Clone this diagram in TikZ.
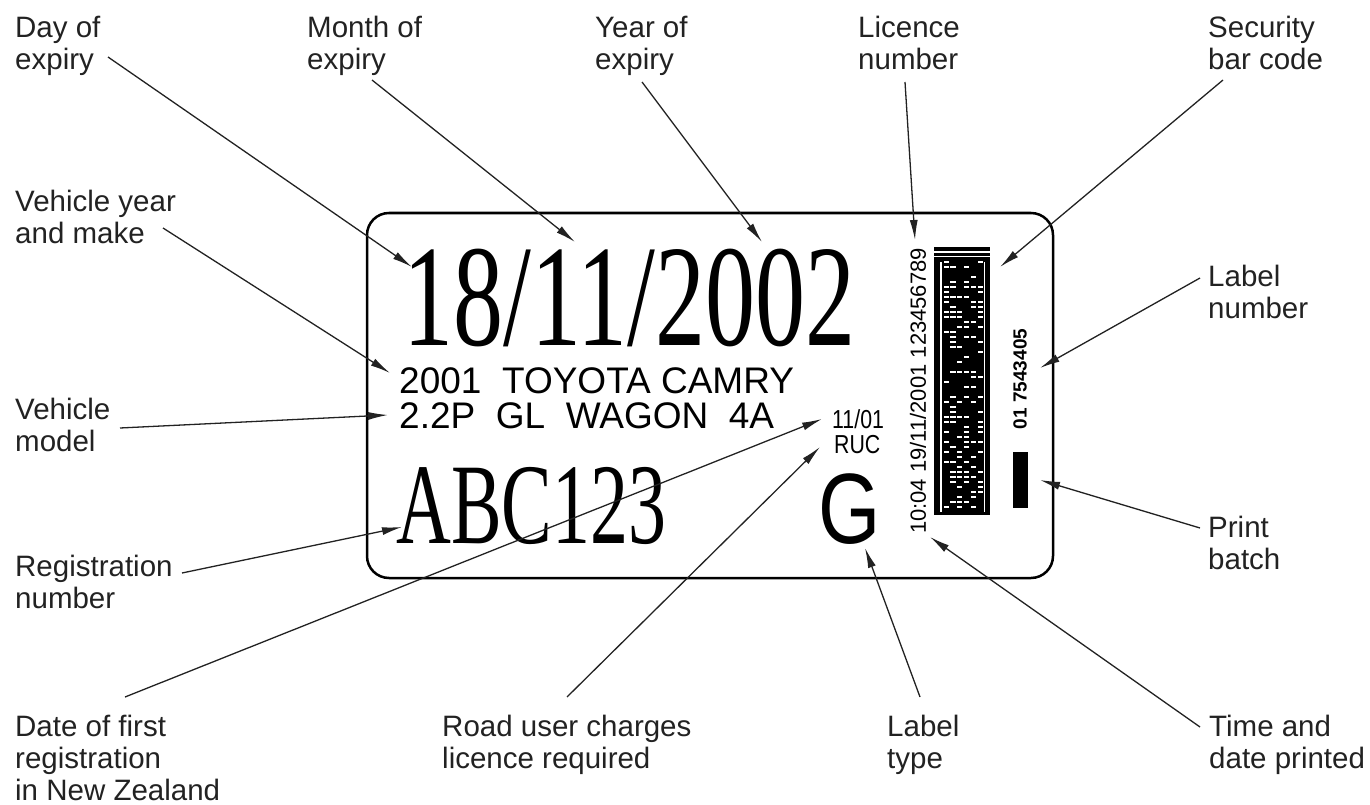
\documentclass[tikz,border=0pt]{standalone}
\usepackage{graphicx}
\usepackage{fontspec}
\setmainfont{Liberation Sans}
\newfontfamily\serifcond{Liberation Serif}
\usetikzlibrary{arrows.meta}
\definecolor{ink}{HTML}{222222}
\begin{document}
\begin{tikzpicture}[x=1pt,y=-1pt,
  lab/.style={anchor=north west, inner sep=0pt, align=left, text=ink,
    font=\fontsize{29.5}{32}\selectfont, execute at begin node=\strut},
  conn/.style={line width=1.3pt, draw=ink, -{Latex[length=20pt,width=8pt]}},
  plain/.style={inner sep=0pt, text=black}
]
\useasboundingbox (0,0) rectangle (1370,805);

% ---- the label card ----
\draw[line width=2.5pt, rounded corners=22pt] (367,213) rectangle (1053,578);

\node[plain, anchor=base west] (date) at (403,345)
  {\serifcond\fontsize{145}{145}\selectfont\scalebox{0.69}[1]{18/11/2002}};
\node[plain, anchor=base west] (make) at (399,393)
  {\fontsize{37}{37}\selectfont 2001\ \ TOYOTA CAMRY};
\node[plain, anchor=base west] (model) at (399,428)
  {\fontsize{37}{37}\selectfont 2.2P\ \ GL\ \ WAGON\ \ 4A};
\node[plain, anchor=base west] (first) at (832,428)
  {\fontsize{26}{26}\selectfont\scalebox{0.82}[1]{11/01}};
\node[plain, anchor=base west] (rucl) at (834,453)
  {\fontsize{26}{26}\selectfont\scalebox{0.82}[1]{RUC}};
\node[plain, anchor=base west] (rego) at (396,543)
  {\serifcond\fontsize{115}{115}\selectfont\scalebox{0.66}[1]{ABC123}};
\node[plain, anchor=base west] (gtype) at (818,543)
  {\fontsize{100}{100}\selectfont\scalebox{0.8}[1]{G}};
\node[plain, rotate=90, font=\fontsize{22}{22}\selectfont] (licno) at (918,391)
  {10:04 19/11/2001 123456789};
\node[plain, rotate=90, font=\bfseries\fontsize{19}{19}\selectfont] (labno) at (1020,379)
  {01 7543405};
\fill[black] (1013,452) rectangle (1028,508);

% barcode
\fill[black] (934,247) rectangle (990,515);
\fill[white] (934,251) rectangle (990,252.5);
\fill[white] (934,256) rectangle (990,257);
\fill[white] (940,262) rectangle (941.5,512);
\fill[white] (984,262) rectangle (985.2,512);
\pgfmathsetseed{7}
\foreach \r in {0,...,49}{
  \foreach \c in {0,...,5}{
    \pgfmathsetmacro\v{rnd}
    \ifdim\v pt>0.62pt
      \fill[white] ({943.5+\c*6.8},{261+\r*5}) rectangle +(5.2,2.4);
    \fi
  }
}

% ---- labels ----
\node[lab] (day) at (15,15.6) {Day of\\expiry};
\node[lab] (month) at (307,15.6) {Month of\\expiry};
\node[lab] (year) at (595,15.6) {Year of\\expiry};
\node[lab] (licence) at (858,15.6) {Licence\\number};
\node[lab] (security) at (1208,15.6) {Security\\bar code};
\node[lab] (vyear) at (15,189.6) {Vehicle year\\and make};
\node[lab] (vmodel) at (15,397.6) {Vehicle\\model};
\node[lab] (reg) at (15,554.6) {Registration\\number};
\node[lab] (lnum) at (1208,264.6) {Label\\number};
\node[lab] (pbatch) at (1208,515.6) {Print\\batch};
\node[lab] (dfirst) at (15,714.6) {Date of first\\registration\\in New Zealand};
\node[lab] (ruc) at (442,714.6) {Road user charges\\licence required};
\node[lab] (ltype) at (887,714.6) {Label\\type};
\node[lab] (tprint) at (1209,714.6) {Time and\\date printed};

% ---- connector end points ----
\coordinate (dayS) at (108,57);   \coordinate (dayE) at (412,267);
\coordinate (monS) at (372,80);   \coordinate (monE) at (575,242);
\coordinate (yeaS) at (642,82);   \coordinate (yeaE) at (762,242);
\coordinate (licS) at (905,82);   \coordinate (licE) at (915,240);
\coordinate (secS) at (1223,80);  \coordinate (secE) at (1000,267);
\coordinate (vyS) at (163,228);   \coordinate (vyE) at (390,373);
\coordinate (vmS) at (120,428);   \coordinate (vmE) at (388,415);
\coordinate (rgS) at (182,573);   \coordinate (rgE) at (402,527);
\coordinate (lnS) at (1200,278);  \coordinate (lnE) at (1040,368);
\coordinate (pbS) at (1200,528);  \coordinate (pbE) at (1040,480);
\coordinate (dfS) at (125,697);   \coordinate (dfE) at (822,419);
\coordinate (ruS) at (567,697);   \coordinate (ruE) at (820,447);
\coordinate (ltS) at (920,697);   \coordinate (ltE) at (865,548);
\coordinate (tpS) at (1200,727);  \coordinate (tpE) at (930,537);

\foreach \a in {day,mon,yea,lic,sec,vy,vm,rg,ln,pb,df,ru,lt,tp}{
  \draw[conn] (\a S) -- (\a E);
}
\end{tikzpicture}
\end{document}
